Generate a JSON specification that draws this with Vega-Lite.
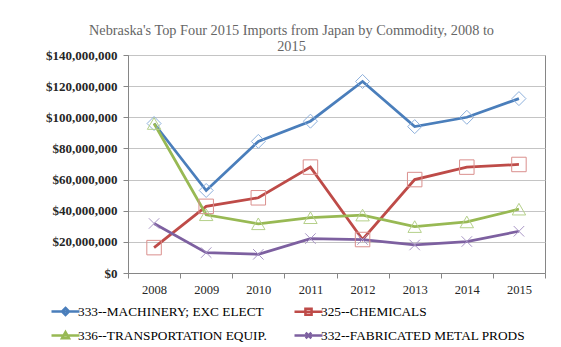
{
  "$schema": "https://vega.github.io/schema/vega-lite/v6.json",
  "width": 417,
  "height": 218,
  "autosize": "none",
  "padding": {"left": 128, "top": 55, "right": 16, "bottom": 74},
  "background": "white",
  "title": {
    "text": ["Nebraska's Top Four 2015 Imports from Japan by Commodity, 2008 to", "2015"],
    "anchor": "middle",
    "frame": "group",
    "dx": -45,
    "offset": -5,
    "font": "Liberation Serif",
    "fontSize": 14.3,
    "fontWeight": "normal",
    "color": "#666666",
    "lineHeight": 16
  },
  "data": {
    "values": [
      {"year": "2008", "commodity": "333--MACHINERY; EXC ELECT", "value": 96000000},
      {"year": "2009", "commodity": "333--MACHINERY; EXC ELECT", "value": 53000000},
      {"year": "2010", "commodity": "333--MACHINERY; EXC ELECT", "value": 84500000},
      {"year": "2011", "commodity": "333--MACHINERY; EXC ELECT", "value": 97500000},
      {"year": "2012", "commodity": "333--MACHINERY; EXC ELECT", "value": 123000000},
      {"year": "2013", "commodity": "333--MACHINERY; EXC ELECT", "value": 94000000},
      {"year": "2014", "commodity": "333--MACHINERY; EXC ELECT", "value": 100000000},
      {"year": "2015", "commodity": "333--MACHINERY; EXC ELECT", "value": 112000000},
      {"year": "2008", "commodity": "325--CHEMICALS", "value": 16300000},
      {"year": "2009", "commodity": "325--CHEMICALS", "value": 42800000},
      {"year": "2010", "commodity": "325--CHEMICALS", "value": 48300000},
      {"year": "2011", "commodity": "325--CHEMICALS", "value": 68000000},
      {"year": "2012", "commodity": "325--CHEMICALS", "value": 21500000},
      {"year": "2013", "commodity": "325--CHEMICALS", "value": 60000000},
      {"year": "2014", "commodity": "325--CHEMICALS", "value": 68000000},
      {"year": "2015", "commodity": "325--CHEMICALS", "value": 69700000},
      {"year": "2008", "commodity": "336--TRANSPORTATION EQUIP.", "value": 96000000},
      {"year": "2009", "commodity": "336--TRANSPORTATION EQUIP.", "value": 37400000},
      {"year": "2010", "commodity": "336--TRANSPORTATION EQUIP.", "value": 31600000},
      {"year": "2011", "commodity": "336--TRANSPORTATION EQUIP.", "value": 35500000},
      {"year": "2012", "commodity": "336--TRANSPORTATION EQUIP.", "value": 37200000},
      {"year": "2013", "commodity": "336--TRANSPORTATION EQUIP.", "value": 29800000},
      {"year": "2014", "commodity": "336--TRANSPORTATION EQUIP.", "value": 32800000},
      {"year": "2015", "commodity": "336--TRANSPORTATION EQUIP.", "value": 41000000},
      {"year": "2008", "commodity": "332--FABRICATED METAL PRODS", "value": 31800000},
      {"year": "2009", "commodity": "332--FABRICATED METAL PRODS", "value": 13100000},
      {"year": "2010", "commodity": "332--FABRICATED METAL PRODS", "value": 12000000},
      {"year": "2011", "commodity": "332--FABRICATED METAL PRODS", "value": 22100000},
      {"year": "2012", "commodity": "332--FABRICATED METAL PRODS", "value": 21500000},
      {"year": "2013", "commodity": "332--FABRICATED METAL PRODS", "value": 18000000},
      {"year": "2014", "commodity": "332--FABRICATED METAL PRODS", "value": 20200000},
      {"year": "2015", "commodity": "332--FABRICATED METAL PRODS", "value": 26800000}
    ]
  },
  "encoding": {
    "x": {
      "field": "year",
      "type": "ordinal",
      "scale": {"type": "band", "paddingInner": 0, "paddingOuter": 0},
      "bandPosition": 0.5,
      "axis": {
        "title": null,
        "tickBand": "extent",
        "labelAngle": 0,
        "labelFont": "Liberation Serif",
        "labelFontSize": 12.5,
        "labelColor": "#262626",
        "labelPadding": 5,
        "tickSize": 5,
        "tickColor": "#868686",
        "domainColor": "#868686",
        "grid": false
      }
    },
    "y": {
      "field": "value",
      "type": "quantitative",
      "scale": {"domain": [0, 140000000], "nice": false},
      "axis": {
        "title": null,
        "values": [0, 20000000, 40000000, 60000000, 80000000, 100000000, 120000000, 140000000],
        "format": "$,.0f",
        "labelFont": "Liberation Serif",
        "labelFontSize": 13,
        "labelFontWeight": "bold",
        "labelColor": "#262626",
        "labelPadding": 6,
        "tickSize": 5,
        "tickColor": "#868686",
        "domainColor": "#868686",
        "grid": true,
        "gridColor": "#c4c4c4",
        "gridWidth": 1.2
      }
    }
  },
  "layer": [
    {
      "mark": {"type": "line", "strokeWidth": 2.75},
      "encoding": {
        "color": {
          "field": "commodity",
          "type": "nominal",
          "scale": {
            "domain": ["333--MACHINERY; EXC ELECT", "325--CHEMICALS", "336--TRANSPORTATION EQUIP.", "332--FABRICATED METAL PRODS"],
            "range": ["#4A7EBB", "#BE4B48", "#98B954", "#7D60A0"]
          },
          "legend": {
            "orient": "none",
            "direction": "horizontal",
            "legendX": -78,
            "legendY": 241,
            "title": null,
            "columns": 2,
            "columnPadding": 22,
            "rowPadding": -3,
            "padding": 0,
            "labelFont": "Liberation Serif",
            "labelFontSize": 13.3,
            "labelColor": "#000000",
            "labelOffset": -3,
            "labelLimit": 0,
            "symbolSize": 784,
            "symbolStrokeWidth": 2.5,
            "symbolFillColor": "transparent",
            "encode": {
              "symbols": {
                "update": {
                  "shape": {"signal": "datum.index === 0 ? 'M-1,0H1M0,-0.25L0.25,0L0,0.25L-0.25,0Z' : datum.index === 1 ? 'M-1,0H1M-0.22,-0.22H0.22V0.22H-0.22Z' : datum.index === 2 ? 'M-1,0H1M0,-0.25L0.25,0.2H-0.25Z' : 'M-1,0H1M-0.2,-0.2L0.2,0.2M-0.2,0.2L0.2,-0.2'"},
                  "fill": {"value": "transparent"},
                  "fillOpacity": {"value": 0}
                }
              }
            }
          }
        }
      }
    },
    {
      "transform": [{"filter": "datum.commodity === '333--MACHINERY; EXC ELECT'"}],
      "mark": {"type": "point", "filled": false, "strokeWidth": 1, "opacity": 1, "size": 196, "shape": "diamond", "stroke": "#8DB0DC"}
    },
    {
      "transform": [{"filter": "datum.commodity === '325--CHEMICALS'"}],
      "mark": {"type": "point", "filled": false, "strokeWidth": 1, "opacity": 1, "size": 210, "shape": "square", "stroke": "#DA8F8D"}
    },
    {
      "transform": [{"filter": "datum.commodity === '336--TRANSPORTATION EQUIP.'"}],
      "mark": {"type": "point", "filled": false, "strokeWidth": 1, "opacity": 1, "size": 180, "shape": "triangle-up", "stroke": "#B5D08A"}
    },
    {
      "transform": [{"filter": "datum.commodity === '332--FABRICATED METAL PRODS'"}],
      "mark": {"type": "point", "filled": false, "strokeWidth": 1, "opacity": 1, "size": 196, "shape": "M-0.75,-0.75L0.75,0.75M-0.75,0.75L0.75,-0.75", "stroke": "#A996C6"}
    }
  ],
  "config": {
    "view": {"stroke": "#868686", "strokeWidth": 1},
    "font": "Liberation Serif"
  }
}
